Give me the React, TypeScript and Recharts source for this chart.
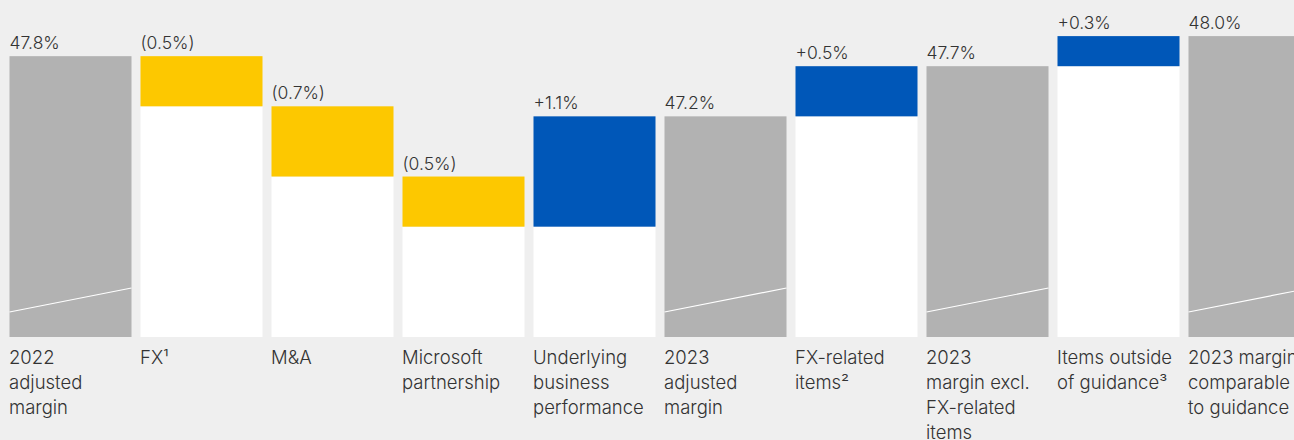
import { BarChart, Bar, XAxis, YAxis, LabelList } from "recharts";

// margin bridge, values in %
const categories = [
  ["2022", "adjusted", "margin"],
  ["FX¹"],
  ["M&A"],
  ["Microsoft", "partnership"],
  ["Underlying", "business", "performance"],
  ["2023", "adjusted", "margin"],
  ["FX-related", "items²"],
  ["2023", "margin excl.", "FX-related", "items"],
  ["Items outside", "of guidance³"],
  ["2023 margin", "comparable", "to guidance"],
];
const values = [47.8, -0.5, -0.7, -0.5, 1.1, 47.2, 0.5, 47.7, 0.3, 48.0];
const kinds = ["total", "delta", "delta", "delta", "delta", "total", "delta", "total", "delta", "total"];
const valueLabels = ["47.8%", "(0.5%)", "(0.7%)", "(0.5%)", "+1.1%", "47.2%", "+0.5%", "47.7%", "+0.3%", "48.0%"];

const AXIS_FLOOR = 45;
const GRAY = "#b2b2b2";
const YELLOW = "#fdc800";
const BLUE = "#0057b8";
const TEXT = "#333333";
const FONT = "Inter, sans-serif";

let running = 0;
const chartData = categories.map((lines, i) => {
  const v = values[i];
  let low: number, high: number, color: string;
  if (kinds[i] === "total") {
    running = v;
    low = AXIS_FLOOR;
    high = v;
    color = GRAY;
  } else {
    const next = running + v;
    low = Math.min(running, next);
    high = Math.max(running, next);
    color = v < 0 ? YELLOW : BLUE;
    running = next;
  }
  return {
    name: lines.join(" "),
    base: low - AXIS_FLOOR,
    top: high - low,
    label: valueLabels[i],
    kind: kinds[i],
    color,
  };
});

// eslint-disable-next-line @typescript-eslint/no-explicit-any
function TopShape(props: any) {
  const { x, y, width, height, payload } = props;
  return (
    <g>
      <rect x={x} y={y} width={width} height={height} fill={payload.color} />
      {payload.kind === "total" && (
        <line x1={x} y1={y + height - 25} x2={x + width} y2={y + height - 49} stroke="#fff" strokeWidth={1.2} />
      )}
    </g>
  );
}

// eslint-disable-next-line @typescript-eslint/no-explicit-any
function ValueLabel(props: any) {
  const { x, y, value } = props;
  return (
    <text x={x} y={y - 7} fill={TEXT} fontSize={17.5} fontWeight={300} fontFamily={FONT}>
      {value}
    </text>
  );
}

// eslint-disable-next-line @typescript-eslint/no-explicit-any
function CategoryTick(props: any) {
  const { x, y, index } = props;
  const lines = categories[index] || [];
  return (
    <text x={x - 61} y={y} fill={TEXT} fontSize={18.5} fontWeight={300} fontFamily={FONT}>
      {lines.map((l, i) => (
        <tspan key={i} x={x - 61} dy={i === 0 ? 27 : 25}>
          {l}
        </tspan>
      ))}
    </text>
  );
}

export default function App() {
  return (
    <div
      style={{
        position: "fixed",
        left: 0,
        top: 0,
        width: 1294,
        height: 440,
        overflow: "hidden",
        background: "#efefef",
      }}
    >
      <BarChart
        width={1315}
        height={440}
        data={chartData}
        margin={{ top: 0, right: 0.5, left: 4.5, bottom: 0 }}
        barSize={122}
      >
        <XAxis
          dataKey="name"
          interval={0}
          height={103}
          axisLine={false}
          tickLine={false}
          tickSize={0}
          tickMargin={0}
          tick={<CategoryTick />}
        />
        <YAxis hide domain={[0, 3.36]} allowDataOverflow />
        <Bar dataKey="base" stackId="a" fill="#ffffff" isAnimationActive={false} />
        <Bar dataKey="top" stackId="a" shape={<TopShape />} isAnimationActive={false}>
          <LabelList dataKey="label" content={<ValueLabel />} />
        </Bar>
      </BarChart>
    </div>
  );
}
